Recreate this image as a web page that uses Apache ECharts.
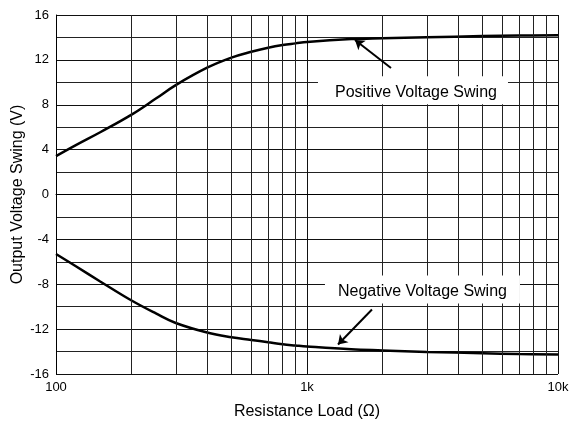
<!DOCTYPE html>
<html>
<head>
<meta charset="utf-8">
<script src="https://cdn.jsdelivr.net/npm/echarts@6/dist/echarts.min.js"></script>
<style>html,body{margin:0;padding:0;background:#fff;}#c{width:569px;height:421px;}</style>
</head>
<body>
<div id="c"></div>
<script>
// Data
const resistance = [100, 120, 150, 200, 250, 300, 400, 500, 600, 700, 800, 900, 1000, 1500, 2000, 3000, 5000, 7000, 10000];
const positiveSwing = [3.42, 4.4, 5.55, 7.12, 8.55, 9.75, 11.3, 12.2, 12.72, 13.08, 13.32, 13.47, 13.6, 13.85, 13.93, 14.02, 14.12, 14.17, 14.2];
const negativeSwing = [-5.3, -6.4, -7.75, -9.45, -10.6, -11.45, -12.3, -12.72, -12.96, -13.17, -13.35, -13.46, -13.55, -13.8, -13.9, -14.03, -14.15, -14.22, -14.27];
const xTickLabels = {100: '100', 1000: '1k', 10000: '10k'};
const minorXGrid = [200, 300, 400, 500, 600, 700, 800, 900, 2000, 3000, 4000, 5000, 6000, 7000, 8000, 9000];
const annotationNames = ['Positive Voltage Swing', 'Negative Voltage Swing'];
const annotationPos = [[2644, 9.3], [2884, -8.46]];
const arrowFrom = [[2161, 11.27], [1815, -10.25]];
const arrowTo = [[1553, 13.77], [1329, -13.375]];

const FONT = 'Liberation Sans, Arial, sans-serif';
const posData = resistance.map((r, i) => [r, positiveSwing[i]]);
const negData = resistance.map((r, i) => [r, negativeSwing[i]]);

const chart = echarts.init(document.getElementById('c'), null, {renderer: 'canvas'});
chart.setOption({
  animation: false,
  backgroundColor: '#fff',
  textStyle: {fontFamily: FONT},
  grid: {left: 56, right: 11, top: 15, bottom: 47, containLabel: false, outerBoundsMode: 'none'},
  xAxis: {
    type: 'log', logBase: 10, min: 100, max: 10000,
    name: 'Resistance Load (Ω)', nameLocation: 'middle', nameGap: 30, nameMoveOverlap: false,
    nameTextStyle: {fontSize: 16, color: '#000', fontFamily: FONT},
    axisLine: {show: true, lineStyle: {color: '#000', width: 1}},
    axisTick: {show: false},
    axisLabel: {fontSize: 13, color: '#000', margin: 7, fontFamily: FONT,
      formatter: v => xTickLabels[Math.round(v)] || ''},
    splitLine: {show: true, lineStyle: {color: '#111', width: 1}}
  },
  yAxis: {
    type: 'value', min: -16, max: 16, interval: 4,
    name: 'Output Voltage Swing (V)', nameLocation: 'middle', nameGap: 30, nameRotate: 90, nameMoveOverlap: false,
    nameTextStyle: {fontSize: 16, color: '#000', fontFamily: FONT},
    axisLine: {show: true, lineStyle: {color: '#000', width: 1}},
    axisTick: {show: false},
    minorTick: {show: false, splitNumber: 2},
    minorSplitLine: {show: true, lineStyle: {color: '#222', width: 1}},
    axisLabel: {fontSize: 13, color: '#000', margin: 7, fontFamily: FONT},
    splitLine: {show: true, lineStyle: {color: '#111', width: 1}}
  },
  series: [
    {
      type: 'line', data: [], z: 1, silent: true,
      markLine: {
        silent: true, symbol: ['none', 'none'], animation: false,
        label: {show: false},
        lineStyle: {color: '#222', width: 1, type: 'solid'},
        data: minorXGrid.map(v => ({xAxis: v}))
      }
    },
    {
      type: 'line', data: [], z: 3, silent: true,
      markPoint: {
        silent: true, animation: false,
        symbol: 'rect',
        itemStyle: {color: '#fff', borderWidth: 0},
        label: {show: true, position: 'inside', color: '#000', fontSize: 16, fontFamily: FONT, formatter: '{b}'},
        data: [
          {name: annotationNames[0], coord: annotationPos[0], symbolSize: [190, 28], label: {offset: [3, 2]}},
          {name: annotationNames[1], coord: annotationPos[1], symbolSize: [195, 28], label: {offset: [0, 2]}}
        ]
      }
    },
    {
      name: 'Positive', type: 'line', data: posData, z: 4, smooth: 0.4,
      showSymbol: false, symbol: 'none',
      lineStyle: {color: '#000', width: 2.5},
      markLine: {
        silent: true, animation: false, symbol: ['none', 'arrow'], symbolSize: 9,
        label: {show: false},
        lineStyle: {color: '#000', width: 2, type: 'solid'},
        data: [[{coord: arrowFrom[0]}, {coord: arrowTo[0]}]]
      }
    },
    {
      name: 'Negative', type: 'line', data: negData, z: 4, smooth: 0.4,
      showSymbol: false, symbol: 'none',
      lineStyle: {color: '#000', width: 2.5},
      markLine: {
        silent: true, animation: false, symbol: ['none', 'arrow'], symbolSize: 9,
        label: {show: false},
        lineStyle: {color: '#000', width: 2, type: 'solid'},
        data: [[{coord: arrowFrom[1]}, {coord: arrowTo[1]}]]
      }
    }
  ]
});
</script>
</body>
</html>
